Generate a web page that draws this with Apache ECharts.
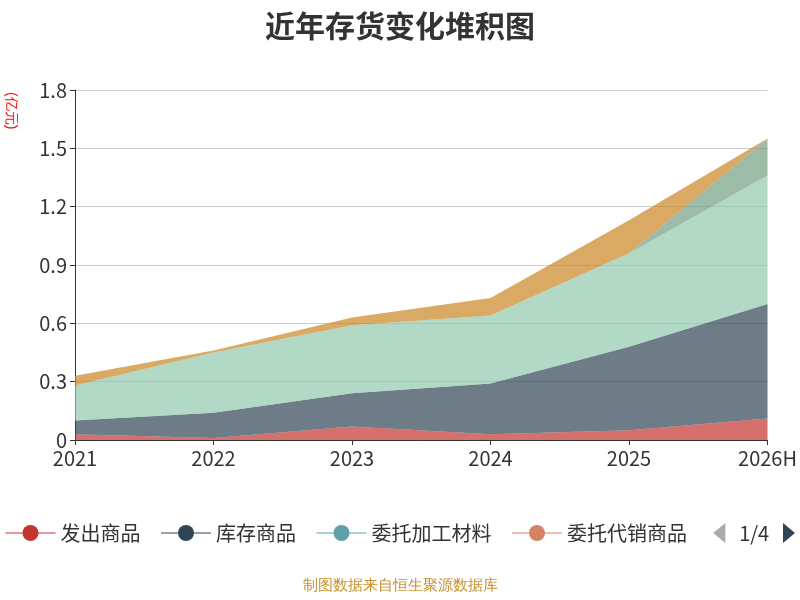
<!DOCTYPE html>
<html style="height: 100%">
<head><meta charset="utf-8"></head>
<body style="height: 100%; margin: 0">
<div id="container" style="width:800px;height:600px"></div>
<script src="https://cdn.jsdelivr.net/npm/echarts@6/dist/echarts.min.js"></script>
<script>
var years = ['2021', '2022', '2023', '2024', '2025', '2026H'];
var names = ['发出商品', '库存商品', '委托加工材料', '委托代销商品', '原材料', '在产品', '周转材料', '半成品', '自制半成品', '低值易耗品', '包装物', '其他'];
var fachu = [0.03, 0.01, 0.07, 0.03, 0.05, 0.11];
var kucun = [0.07, 0.13, 0.17, 0.26, 0.43, 0.59];
var weituoJiagong = [0, 0, 0, 0, 0, 0];
var weituoDaixiao = [0, 0, 0, 0, 0, 0];
var yuancailiao = [0.18, 0.31, 0.35, 0.35, 0.48, 0.66];
var zaichanpin = [0, 0, 0, 0, 0, 0.19];
var zhouzhuan = [0.05, 0.01, 0.04, 0.09, 0.17, 0];
var banchengpin = [0, 0, 0, 0, 0, 0];
var zizhi = [0, 0, 0, 0, 0, 0];
var dizhi = [0, 0, 0, 0, 0, 0];
var baozhuang = [0, 0, 0, 0, 0, 0];
var qita = [0, 0, 0, 0, 0, 0];
var values = [fachu, kucun, weituoJiagong, weituoDaixiao, yuancailiao, zaichanpin, zhouzhuan, banchengpin, zizhi, dizhi, baozhuang, qita];
var colors = ['#c23531', '#2f4554', '#61a0a8', '#d48265', '#91c7ae', '#749f83', '#ca8622', '#bda29a', '#6e7074', '#546570', '#c4ccd3', '#dd6b66'];

var myChart = echarts.init(document.getElementById('container'));
var series = names.map(function (n, i) {
    return {
        name: n, type: 'line', stack: 'total', data: values[i],
        symbol: 'circle', symbolSize: 8, showSymbol: false, lineStyle: { width: 0 },
        areaStyle: { opacity: 0.7 }
    };
});
var option = {
    color: colors,
    textStyle: { fontFamily: 'Noto Sans CJK SC' },
    title: {
        text: '近年存货变化堆积图', left: 'center', top: 6,
        textStyle: { fontSize: 30, fontWeight: 'bold', color: '#333', fontFamily: 'Noto Sans CJK SC' }
    },
    legend: {
        type: 'scroll', top: 518, left: 0, right: 0, itemWidth: 50, itemHeight: 20, itemGap: 20,
        textStyle: { fontSize: 20, color: '#333' },
        itemStyle: { borderWidth: 0 },
        lineStyle: { width: 1 },
        pageTextStyle: { fontSize: 20, color: '#333' }, pageIconSize: 20,
        pageIconColor: '#2f4554', pageIconInactiveColor: '#aaa'
    },
    grid: { left: 75, right: 32, top: 90, bottom: 160 },
    xAxis: {
        type: 'category', data: years, boundaryGap: false,
        axisLine: { lineStyle: { color: '#333' } },
        axisTick: { show: true },
        axisLabel: { fontSize: 20, color: '#333' }
    },
    yAxis: {
        type: 'value', min: 0, max: 1.8, interval: 0.3,
        axisLine: { show: true, lineStyle: { color: '#333' } },
        axisTick: { show: true },
        axisLabel: { fontSize: 20, color: '#333' },
        splitLine: { lineStyle: { color: '#ccc' } }
    },
    graphic: [{
        type: 'text', left: 4, top: 92, rotation: -Math.PI / 2,
        style: { text: '(亿元)', fill: '#ff0000', fontSize: 14 }
    }, {
        type: 'text', left: 'center', top: 578,
        style: { text: '制图数据来自恒生聚源数据库', fill: '#c8902a', fontSize: 15 }
    }],
    series: series
};
myChart.setOption(option);
</script>
</body>
</html>
